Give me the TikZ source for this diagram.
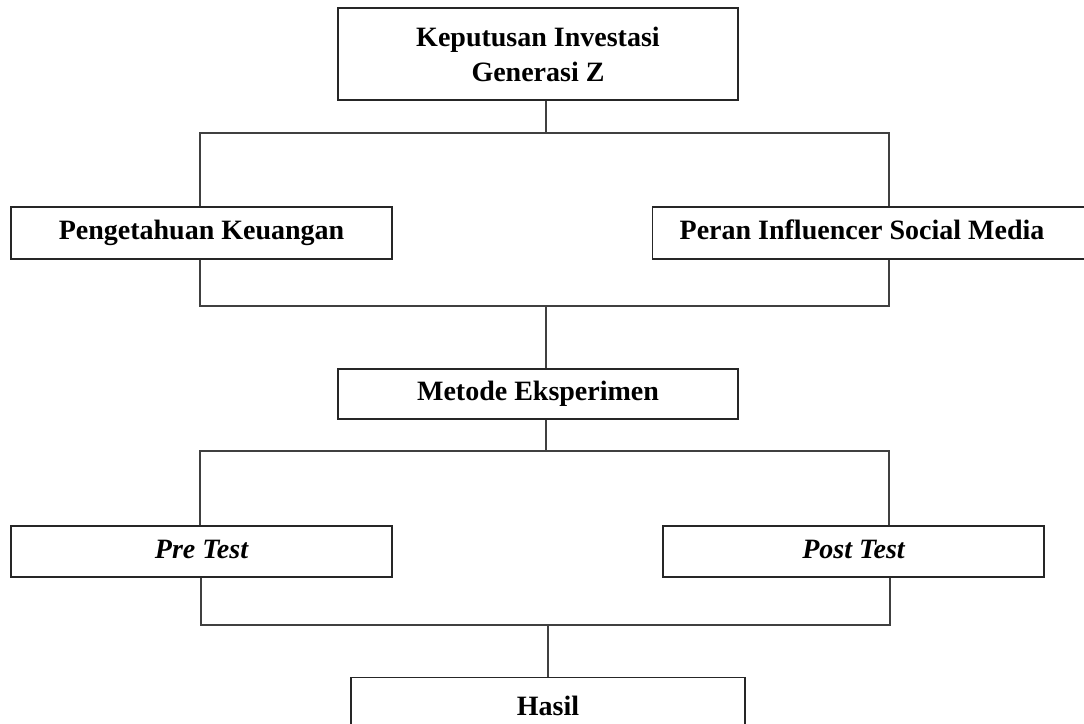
\documentclass[tikz,border=0pt]{standalone}
\usepackage{fontspec}
\setmainfont{Liberation Serif}
\usetikzlibrary{positioning}

\tikzset{
  box/.style={draw=black!85, line width=0.65pt, rectangle, inner sep=0pt,
    font=\fontsize{14}{17.5}\selectfont\bfseries, align=center},
  oneline/.style={text height=0.66em, text depth=0pt},
  link/.style={draw=black!75, line width=0.55pt},
}

\begin{document}
\begin{tikzpicture}[x=0.5pt, y=-0.5pt]
        \useasboundingbox (0,0) rectangle (1084,724);

        % Boxes
        \node[box, minimum width=200pt, minimum height=46pt] (kep) at (538,54) {Keputusan Investasi\\Generasi Z};
        \node[box, oneline, minimum width=190.5pt, minimum height=26pt] (pk) at (201.5,233) {Pengetahuan Keuangan};
        \node[box, oneline, anchor=west, text width=192pt, inner xsep=13.5pt, align=flush left, minimum height=26pt] (peran) at (652,233) {Peran Influencer Social Media};
        \node[box, oneline, minimum width=200pt, minimum height=25pt] (mtd) at (538,394) {Metode Eksperimen};
        \node[box, oneline, minimum width=190.5pt, minimum height=25.5pt] (pre) at (201.5,551.5) {\itshape Pre Test};
        \node[box, oneline, minimum width=190.5pt, minimum height=25.5pt] (post) at (853.5,551.5) {\itshape Post Test};
        \node[box, anchor=north, minimum width=197pt, text height=10pt, text depth=30pt, inner ysep=9pt] (hasil) at (548,677) {Hasil};

        % Junctions
        \coordinate (j1) at (546,133);
        \coordinate (j1l) at (200,133);
        \coordinate (j1r) at (889,133);
        \coordinate (j2) at (546,306);
        \coordinate (j2l) at (200,306);
        \coordinate (j2r) at (889,306);
        \coordinate (j3) at (546,451);
        \coordinate (j3l) at (200,451);
        \coordinate (j3r) at (889,451);
        \coordinate (j4) at (548,625);
        \coordinate (j4l) at (201,625);
        \coordinate (j4r) at (890,625);

        % Keputusan to both variables
        \draw[link] (kep.south -| j1) -- (j1);
        \draw[link] (pk.north -| j1l) -- (j1l) -- (j1r) -- (peran.north -| j1r);

        % Variables to method
        \draw[link] (pk.south -| j2l) -- (j2l) -- (j2r) -- (peran.south -| j2r);
        \draw[link] (j2) -- (mtd.north -| j2);

        % Method to tests
        \draw[link] (mtd.south -| j3) -- (j3);
        \draw[link] (pre.north -| j3l) -- (j3l) -- (j3r) -- (post.north -| j3r);

        % Tests to result
        \draw[link] (pre.south -| j4l) -- (j4l) -- (j4r) -- (post.south -| j4r);
        \draw[link] (j4) -- (hasil.north -| j4);
    \end{tikzpicture}
\end{document}
